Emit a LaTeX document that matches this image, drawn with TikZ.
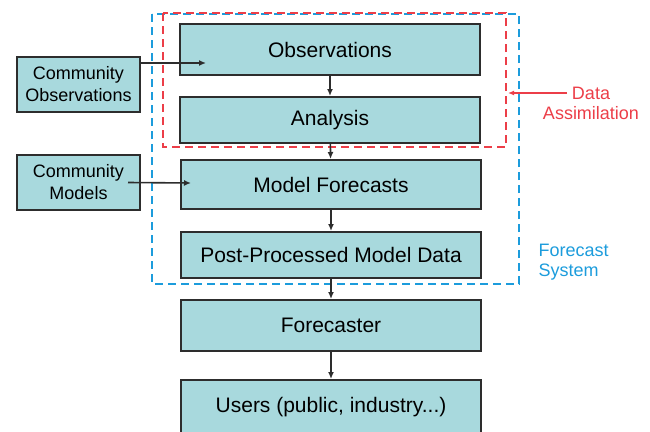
\documentclass[tikz,border=0pt]{standalone}
\usepackage{fontspec}
\setmainfont{Liberation Sans}
\usetikzlibrary{arrows.meta}
\definecolor{boxfill}{RGB}{168,217,221}
\definecolor{boxline}{RGB}{45,45,45}
\definecolor{darect}{RGB}{236,62,72}
\definecolor{fsrect}{RGB}{28,156,220}
\tikzset{
    stage/.style={draw=boxline, line width=2pt, fill=boxfill, minimum width=300pt, minimum height=49pt, inner sep=0pt, font=\fontsize{21}{25}\selectfont},
    source/.style={draw=boxline, line width=2pt, fill=boxfill, minimum width=123pt, minimum height=55pt, inner sep=0pt, align=center, font=\fontsize{18}{22}\selectfont},
    flow/.style={-{Latex[length=7pt,width=6pt]}, line width=1.6pt, draw=boxline},
    note/.style={font=\fontsize{18}{20}\selectfont}
}
\begin{document}
\begin{tikzpicture}[x=1pt,y=-1pt]
        \useasboundingbox (0,0) rectangle (650,431);
        % Frames.
        \draw[fsrect, line width=2.2pt, dash pattern=on 8pt off 5pt] (152,14) rectangle (519,284);
        \draw[darect, line width=2.2pt, dash pattern=on 8pt off 5pt] (163,13) rectangle (506,147);

        \node[stage, minimum height=51pt] (obs) at (330,49.5) {Observations};
        \node[stage, minimum height=46pt] (ana) at (330,120) {Analysis};
        \node[stage] (mf) at (331,184.5) {Model Forecasts};
        \node[stage, minimum height=46pt] (pp) at (331,255) {Post-Processed Model Data};
        \node[stage, minimum height=51pt] (fc) at (331,325.5) {Forecaster};
        \node[stage, minimum height=54pt] (usr) at (331,407) {Users (public, industry...)};

        \node[source] (cobs) at (78.5,84.5) {Community\\Observations};
        \node[source] (cmod) at (78.5,182.5) {Community\\Models};

        % Flow down the column.
        \draw[flow] (obs) -- (ana);
        \draw[flow] (ana) -- (mf);
        \draw[flow] (mf) -- (pp);
        \draw[flow] (pp) -- (fc);
        \draw[flow] (fc) -- (usr);

        % Community inputs.
        \coordinate (obsin) at (206,63);
        \coordinate (mfin) at (191,183);
        \draw[flow] (cobs.east |- obsin) -- (obsin);
        \draw[flow] ([xshift=-13pt]cmod.east) -- (mfin);

        % Labels.
        \node[note, darect, align=center] (dalabel) at (591,103) {Data\\Assimilation};
        \coordinate (dastart) at (567,93);
        \coordinate (datip) at (508,93);
        \draw[darect, line width=1.5pt, -{Latex[length=6pt,width=5pt]}] (dastart) -- (datip);
        \node[note, fsrect, align=left, anchor=west] (fslabel) at (535,262) {Forecast\\System};
    \end{tikzpicture}
\end{document}
